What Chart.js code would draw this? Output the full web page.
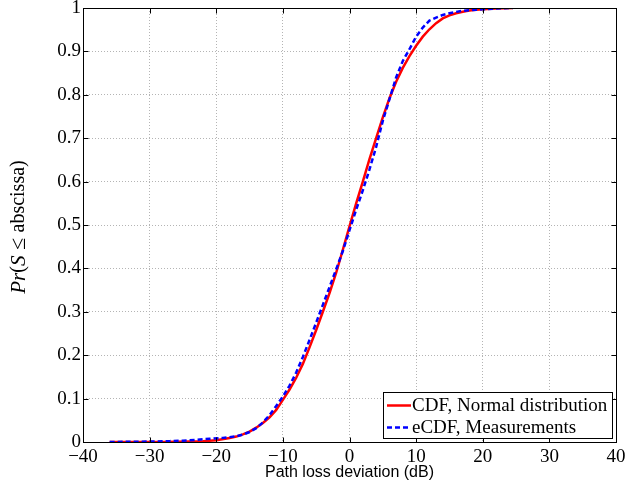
<!DOCTYPE html>
<html lang="en">
<head>
<meta charset="UTF-8">
<script src="https://cdn.jsdelivr.net/npm/chart.js"></script>
<title>CDF vs eCDF</title>
<style>
  html, body { margin: 0; padding: 0; background: #fff; }
  #grafico { display: block; }
</style>
</head>
<body>
<canvas id="grafico" width="643" height="487"></canvas>

<script>
// valores
const redX = [-36, -34, -32, -30, -28, -26, -24, -22, -20, -18, -17, -16, -15, -14, -13, -12, -11, -10, -9, -8, -7, -6, -5, -4, -3, -2, -1,
    0, 1, 2, 3, 4, 5, 6, 7, 8, 9, 10, 11, 12, 13, 14, 15, 16, 17, 18, 19, 20, 22, 24.5]
const redY = [0, 0, 0, 0.0001, 0.0002, 0.0004, 0.0009, 0.0019, 0.004, 0.009, 0.0125, 0.0175, 0.024, 0.033, 0.044, 0.057, 0.074, 0.097, 0.121, 0.148, 0.180, 0.218, 0.258, 0.300, 0.343, 0.39, 0.443,
    0.497, 0.55, 0.60, 0.652, 0.70, 0.748, 0.792, 0.830, 0.862, 0.889, 0.913, 0.934, 0.951, 0.965, 0.976, 0.983, 0.988, 0.9915, 0.994, 0.996, 0.9972, 0.9988, 1.0]

const blueX = [-36, -33, -30, -27, -25, -23, -21, -19, -17, -16, -15, -14, -13, -12, -11, -10, -9, -8, -7, -6, -5, -4, -3, -2, -1,
    0, 1, 2, 3, 4, 5, 6, 7, 8, 9, 10, 11, 12, 13, 14, 15, 16, 17, 18, 19, 20, 22, 24.5]
const blueY = [0, 0.0005, 0.001, 0.002, 0.003, 0.005, 0.0075, 0.0095, 0.013, 0.017, 0.023, 0.032, 0.045, 0.062, 0.083, 0.105, 0.13, 0.16, 0.196, 0.235, 0.275, 0.316, 0.357, 0.398, 0.44,
    0.488, 0.535, 0.58, 0.628, 0.68, 0.74, 0.79, 0.84, 0.878, 0.905, 0.934, 0.955, 0.971, 0.978, 0.984, 0.988, 0.991, 0.9935, 0.995, 0.996, 0.997, 0.999, 1.0]

const xTicks = [-40, -30, -20, -10, 0, 10, 20, 30, 40]
const yTicks = [0, 0.1, 0.2, 0.3, 0.4, 0.5, 0.6, 0.7, 0.8, 0.9, 1]

const serif = '"Liberation Serif", "Times New Roman", serif'

// moldura preta + marcas de escala para dentro (estilo matlab)
const moldura = {
    id: 'moldura',
    afterDraw(chart) {
        const ctx = chart.ctx
        const a = chart.chartArea
        const sx = chart.scales.x
        const sy = chart.scales.y
        ctx.save()
        ctx.strokeStyle = '#000'
        ctx.lineWidth = 1
        const L = Math.round(a.left) + 0.5, R = Math.round(a.right) + 0.5
        const T = Math.round(a.top) + 0.5, B = Math.round(a.bottom) + 0.5
        ctx.beginPath()
        xTicks.forEach(v => {
            const p = Math.round(sx.getPixelForValue(v)) + 0.5
            ctx.moveTo(p, B); ctx.lineTo(p, B - 5)
            ctx.moveTo(p, T); ctx.lineTo(p, T + 5)
        })
        yTicks.forEach(v => {
            const p = Math.round(sy.getPixelForValue(v)) + 0.5
            ctx.moveTo(L, p); ctx.lineTo(L + 5, p)
            ctx.moveTo(R, p); ctx.lineTo(R - 5, p)
        })
        ctx.stroke()
        ctx.strokeRect(L, T, R - L, B - T)
        ctx.restore()
    }
}

// legenda dentro do grafico, canto inferior direito
const legenda = {
    id: 'legenda',
    afterDraw(chart) {
        const ctx = chart.ctx
        const box = { x: 383, y: 392, w: 229, h: 46 }
        ctx.save()
        ctx.fillStyle = '#fff'
        ctx.fillRect(box.x, box.y, box.w, box.h)
        ctx.strokeStyle = '#000'
        ctx.lineWidth = 1
        ctx.strokeRect(box.x + 0.5, box.y + 0.5, box.w, box.h)
        ctx.font = '19px ' + serif
        ctx.textBaseline = 'middle'
        ctx.textAlign = 'left'
        chart.data.datasets.forEach((ds, i) => {
            const y = box.y + 13.5 + i * 22
            ctx.strokeStyle = ds.borderColor
            ctx.lineWidth = ds.borderWidth
            ctx.setLineDash(ds.borderDash || [])
            ctx.beginPath()
            ctx.moveTo(box.x + 4, y)
            ctx.lineTo(box.x + 28, y)
            ctx.stroke()
            ctx.setLineDash([])
            ctx.fillStyle = '#000'
            ctx.fillText(ds.label, box.x + 29, y + 1)
        })
        ctx.restore()
    }
}

// titulo do eixo y com partes em italico
const tituloY = {
    id: 'tituloY',
    afterDraw(chart) {
        const ctx = chart.ctx
        const partes = [['Pr', 'italic ', 21], ['(', '', 20], ['S', 'italic ', 21], [' \u2264 ', '', 22], ['abscissa)', '', 20]]
        ctx.save()
        ctx.translate(19, 227)
        ctx.rotate(-Math.PI / 2)
        ctx.textBaseline = 'middle'
        ctx.fillStyle = '#000'
        let total = 0
        partes.forEach(p => {
            ctx.font = p[1] + p[2] + 'px ' + serif
            total += ctx.measureText(p[0]).width
        })
        let x = -total / 2
        partes.forEach(p => {
            ctx.font = p[1] + p[2] + 'px ' + serif
            ctx.fillText(p[0], x, 0)
            x += ctx.measureText(p[0]).width
        })
        ctx.restore()
    }
}

function montarPontos(xs, ys) {
    return xs.map((v, i) => ({ x: v, y: ys[i] }))
}

const ctx = document.getElementById('grafico')

new Chart(ctx, {
    type: 'scatter',
    data: {
        datasets: [{
            label: 'CDF, Normal distribution',
            data: montarPontos(redX, redY),
            showLine: true,
            borderColor: '#ff0000',
            borderWidth: 2.5,
            pointRadius: 0,
            tension: 0,
            order: 1
        }, {
            label: 'eCDF, Measurements',
            data: montarPontos(blueX, blueY),
            showLine: true,
            borderColor: '#0000ff',
            borderWidth: 2.5,
            borderDash: [5, 3],
            pointRadius: 0,
            tension: 0,
            order: 0
        }]
    },
    options: {
        responsive: false,
        animation: false,
        devicePixelRatio: 1,
        layout: { padding: { left: 0, top: 8, right: 27, bottom: 0 } },
        plugins: {
            legend: { display: false },
            tooltip: { enabled: false }
        },
        scales: {
            x: {
                type: 'linear',
                min: -40,
                max: 40,
                afterBuildTicks: s => { s.ticks = xTicks.map(v => ({ value: v })) },
                afterFit: s => {
                    s.height = 45
                    s.paddingLeft = 0; s.paddingRight = 0
                },
                grid: { color: '#b4b4b4', drawTicks: false, lineWidth: 1 },
                border: { display: false, dash: [1, 2] },
                ticks: {
                    color: '#000',
                    padding: 4,
                    maxRotation: 0,
                    font: { family: serif, size: 19 },
                    callback: v => v < 0 ? '\u2212' + Math.abs(v) : String(v)
                },
                title: {
                    display: true,
                    text: 'Path loss deviation (dB)',
                    color: '#000',
                    font: { family: '"Liberation Sans", Arial, sans-serif', size: 16 },
                    padding: { top: 0, bottom: 5 }
                }
            },
            y: {
                type: 'linear',
                min: 0,
                max: 1,
                afterBuildTicks: s => { s.ticks = yTicks.map(v => ({ value: v })) },
                afterFit: s => {
                    s.width = 83
                    s.paddingTop = 0; s.paddingBottom = 0
                },
                grid: { color: '#b4b4b4', drawTicks: false, lineWidth: 1 },
                border: { display: false, dash: [1, 2] },
                ticks: {
                    color: '#000',
                    padding: 2,
                    font: { family: serif, size: 19 },
                    callback: v => String(+v.toFixed(1))
                }
            }
        }
    },
    plugins: [moldura, legenda, tituloY]
})
</script>
</body>
</html>
